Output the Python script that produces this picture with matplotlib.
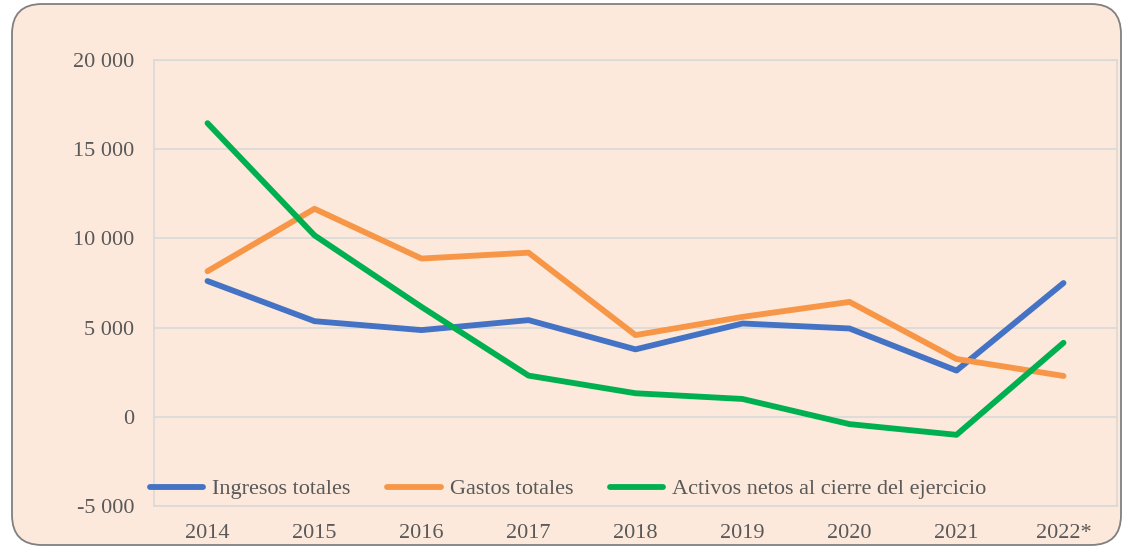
import matplotlib.pyplot as plt
from matplotlib.patches import FancyBboxPatch
from matplotlib.ticker import FuncFormatter

plt.rcParams.update({
    "font.family": "Liberation Serif",
    "font.size": 16,
    "text.color": "#595959",
    "xtick.color": "#595959",
    "ytick.color": "#595959",
})

years = ["2014", "2015", "2016", "2017", "2018", "2019", "2020", "2021", "2022*"]
ingresos = [7610, 5360, 4860, 5420, 3780, 5230, 4950, 2590, 7500]
gastos = [8160, 11660, 8870, 9200, 4580, 5600, 6440, 3240, 2290]
activos = [16460, 10170, 6160, 2310, 1320, 1000, -410, -1010, 4150]

BG = "#FCE9DB"
GRID = "#D9D9D9"

W, H = 1129, 546
fig = plt.figure(figsize=(W / 100, H / 100), dpi=100)
fig.patch.set_facecolor("white")

# rounded outer frame, drawn in pixel coordinates
box = FancyBboxPatch((12, 1), 1121 - 12, 542 - 1,
                     boxstyle="round,pad=0,rounding_size=30",
                     transform=None, facecolor=BG,
                     edgecolor="#808080", linewidth=1.3, zorder=-5)
fig.patches.append(box)

ax = fig.add_axes([154 / W, 1 - 506 / H, (1117 - 154) / W, (506 - 60) / H])
ax.set_facecolor(BG)
ax.set_zorder(1)

x = range(len(years))
for vals, col, lab in [(ingresos, "#4472C4", "Ingresos totales"),
                       (gastos, "#F79646", "Gastos totales"),
                       (activos, "#00B050", "Activos netos al cierre del ejercicio")]:
    ax.plot(x, vals, color=col, lw=4.2, label=lab,
            solid_capstyle="round", solid_joinstyle="round", zorder=3)

ax.set_xlim(-0.5, len(years) - 0.5)
ax.set_ylim(-5000, 20000)
ax.set_yticks(range(-5000, 20001, 5000))
ax.yaxis.set_major_formatter(FuncFormatter(lambda v, p: f"{int(v):,}".replace(",", " ")))
ax.set_xticks(list(x))
ax.set_xticklabels(years)
ax.tick_params(length=0)
ax.tick_params(axis="y", pad=14)
ax.tick_params(axis="x", pad=13)
ax.grid(axis="y", color=GRID, lw=1.2, zorder=1)
for s in ax.spines.values():
    s.set_color(GRID)
    s.set_linewidth(1.2)

ax.legend(loc="center left", bbox_to_anchor=(-0.004, 0.038), ncol=3,
          frameon=False, handlelength=2.4, handletextpad=0.4,
          columnspacing=1.65, borderpad=0, borderaxespad=0)

fig.savefig("out.png", dpi=100, facecolor=fig.get_facecolor())
